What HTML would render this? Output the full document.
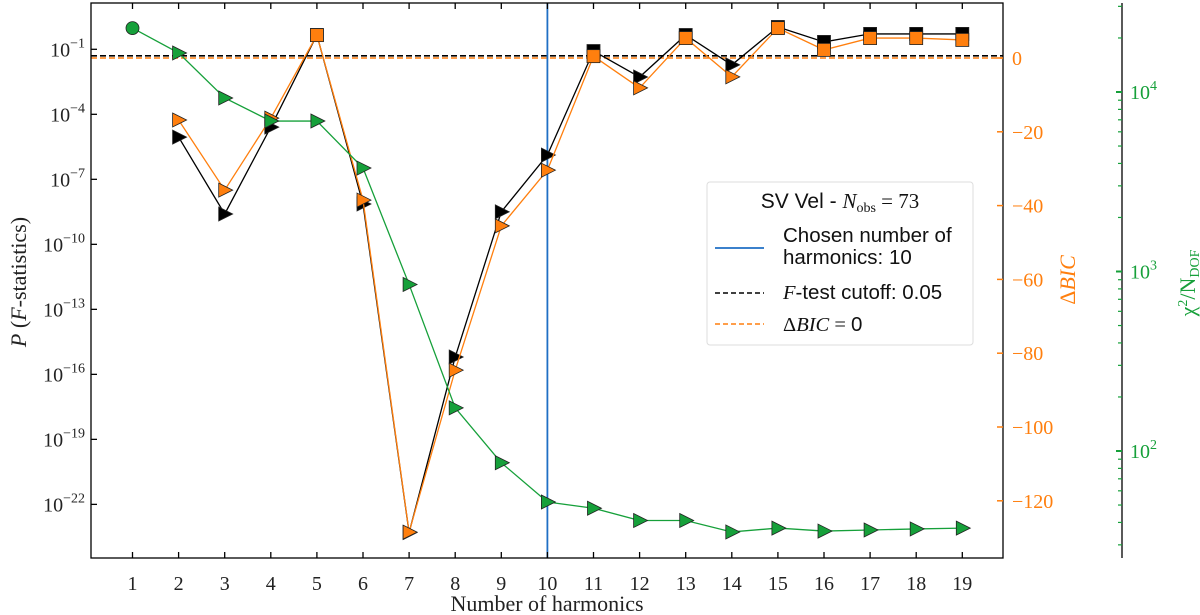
<!DOCTYPE html>
<html><head><meta charset="utf-8"><style>
html,body{margin:0;padding:0;background:#fff;width:1200px;height:615px;overflow:hidden}
svg{display:block}
.ser{font-family:"Liberation Serif","DejaVu Serif",serif}
.san{font-family:"Liberation Sans","DejaVu Sans",sans-serif}
</style></head><body>
<svg id="chart" width="1200" height="615" viewBox="0 0 1200 615"></svg>
<script>
const harmonics=[1,2,3,4,5,6,7,8,9,10,11,12,13,14,15,16,17,18,19];
const pLogHarm=[2,3,4,5,6,7,8,9,10,11,12,13,14,15,16,17,18,19];
const pLogValues=[-5.05,-8.6,-4.59,-0.34,-8.14,-23.3,-15.2,-8.5,-5.88,-1.08,-2.28,-0.34,-1.72,0.03,-0.66,-0.29,-0.29,-0.29];
const bicValues=[-16.8,-35.8,-16.3,6.2,-38.5,-128.5,-84.6,-45.5,-30.4,0.5,-8.1,5.4,-5.1,8.1,2.2,5.4,5.4,4.9];
const chiValues=[22700,16500,9260,6890,6890,3770,847,174,86,52,48,41,41,35.4,37.2,35.8,36.3,36.8,37.2];
const xTicks=[1,2,3,4,5,6,7,8,9,10,11,12,13,14,15,16,17,18,19];
const pTickExps=[-1,-4,-7,-10,-13,-16,-19,-22];
const bicTicks=[0,-20,-40,-60,-80,-100,-120];
const chiTickExps=[2,3,4];
const chosenHarm=10, fCut=0.05;

const L=91,R=1003,T=3,B=558;
const x=h=>132.5+(h-1)*46.1;
const yP=lp=>49.3+(-1-lp)*21.67;
const yB=v=>58-v*3.69;
const yC=c=>92-(Math.log10(c)-4)*179.5;
const NS="http://www.w3.org/2000/svg";
const svg=document.getElementById('chart');
function el(tag,attrs,parent){const e=document.createElementNS(NS,tag);for(const k in attrs)e.setAttribute(k,attrs[k]);(parent||svg).appendChild(e);return e;}

let g=el('line',{x1:L,x2:R,y1:yP(Math.log10(fCut)),y2:yP(Math.log10(fCut)),stroke:'#000','stroke-width':1.6,'stroke-dasharray':'6,3'});


g=el('line',{x1:L,x2:R,y1:yB(0),y2:yB(0),stroke:'#ff7f0e','stroke-width':1.6,'stroke-dasharray':'6,3'});


g=el('line',{x1:x(chosenHarm),x2:x(chosenHarm),y1:T,y2:B,stroke:'#1f6fc4','stroke-width':1.8});



function tri(cx,cy,fill){return el('polygon',{points:`${cx-6},${cy-7} ${cx+8},${cy} ${cx-6},${cy+7}`,fill:fill,stroke:'#222','stroke-width':0.8});}
function sq(cx,cy,fill){return el('rect',{x:cx-6.5,y:cy-6.5,width:13,height:13,fill:fill,stroke:'#222','stroke-width':0.8});}

let pts=pLogHarm.map((h,i)=>`${x(h)},${yP(pLogValues[i])}`).join(' ');
g=el('polyline',{points:pts,fill:'none',stroke:'#000','stroke-width':1.3});


pLogHarm.forEach((h,i)=>{const v=pLogValues[i];const m=v>Math.log10(fCut)?sq(x(h),yP(v),'#000'):tri(x(h),yP(v),'#000');

});

pts=pLogHarm.map((h,i)=>`${x(h)},${yB(bicValues[i])}`).join(' ');
g=el('polyline',{points:pts,fill:'none',stroke:'#ff7f0e','stroke-width':1.3});


pLogHarm.forEach((h,i)=>{const v=bicValues[i];const m=v>0?sq(x(h),yB(v),'#ff7f0e'):tri(x(h),yB(v),'#ff7f0e');

});

pts=harmonics.map((h,i)=>`${x(h)},${yC(chiValues[i])}`).join(' ');
g=el('polyline',{points:pts,fill:'none',stroke:'#16a03a','stroke-width':1.3});


harmonics.forEach((h,i)=>{let m;if(i===0){m=el('circle',{cx:x(h),cy:yC(chiValues[i]),r:6.5,fill:'#16a03a',stroke:'#222','stroke-width':0.8});}else m=tri(x(h),yC(chiValues[i]),'#16a03a');

});

g=el('rect',{x:L,y:T,width:R-L,height:B-T,fill:'none',stroke:'#000','stroke-width':1.3});



xTicks.forEach(t=>{el('line',{x1:x(t),x2:x(t),y1:B,y2:B-6,stroke:'#000','stroke-width':1.3});el('line',{x1:x(t),x2:x(t),y1:T,y2:T+6,stroke:'#000','stroke-width':1.3});
const tx=el('text',{x:x(t),y:590,'text-anchor':'middle','font-size':20,class:'ser',fill:'#222'});tx.textContent=t;

});
pTickExps.forEach(e=>{const yy=yP(e);el('line',{x1:L,x2:L+6,y1:yy,y2:yy,stroke:'#000','stroke-width':1.3});
const tx=el('text',{x:L-6,y:yy+7,'text-anchor':'end','font-size':20,class:'ser',fill:'#222'});tx.innerHTML=`10<tspan dy="-9" font-size="14">${e<0?'−':''}${Math.abs(e)}</tspan>`;

});
bicTicks.forEach(v=>{const yy=yB(v);el('line',{x1:R-6,x2:R,y1:yy,y2:yy,stroke:'#ff7f0e','stroke-width':1.5});
const tx=el('text',{x:R+9,y:yy+7,'font-size':20,class:'ser',fill:'#ff7f0e'});tx.textContent=(v<0?'−':'')+Math.abs(v);

});
el('line',{x1:1122,x2:1122,y1:T,y2:B,stroke:'#000','stroke-width':1.3});
for(let e=1;e<=4;e++)for(let k=1;k<10;k++){const yy=yC(k*Math.pow(10,e));if(yy<T||yy>B)continue;
el('line',{x1:k===1?1116:1118,x2:1122,y1:yy,y2:yy,stroke:'#16a03a','stroke-width':k===1?2:1.2});}
chiTickExps.forEach(e=>{const yy=yC(Math.pow(10,e));const tx=el('text',{x:1130,y:yy+7,'font-size':20,class:'ser',fill:'#16a03a'});tx.innerHTML=`10<tspan dy="-9" font-size="14">${e}</tspan>`;

});

let t=el('text',{x:547,y:611,'text-anchor':'middle','font-size':22,class:'ser',fill:'#222'});t.textContent='Number of harmonics';


t=el('text',{transform:'translate(26,282) rotate(-90)','text-anchor':'middle','font-size':22,class:'ser',fill:'#222'});t.innerHTML='<tspan font-style="italic">P</tspan> (<tspan font-style="italic">F</tspan>-statistics)';


t=el('text',{transform:'translate(1075,280) rotate(-90)','text-anchor':'middle','font-size':22,class:'ser',fill:'#ff7f0e'});t.innerHTML='Δ<tspan font-style="italic">BIC</tspan>';


t=el('text',{transform:'translate(1195,283) rotate(-90)','text-anchor':'middle','font-size':22,class:'ser',fill:'#16a03a'});t.innerHTML='χ<tspan dy="-8" font-size="14">2</tspan><tspan dy="8">/N</tspan><tspan dy="4" font-size="14">DOF</tspan>';



const lg=el('g',{});


el('rect',{x:707,y:182,width:266,height:163,rx:3,fill:'#fff',stroke:'#ddd','stroke-width':1},lg);
t=el('text',{x:840,y:208,'text-anchor':'middle','font-size':21,class:'san',fill:'#111'},lg);t.innerHTML='SV Vel - <tspan class="ser" font-style="italic">N</tspan><tspan class="ser" font-size="14" dy="4">obs</tspan><tspan class="ser" dy="-4"> = 73</tspan>';


el('line',{x1:715,x2:764,y1:248,y2:248,stroke:'#1f6fc4','stroke-width':1.8},lg);
t=el('text',{x:783,y:242,'font-size':20.5,class:'san',fill:'#111'},lg);t.textContent='Chosen number of';


t=el('text',{x:783,y:264,'font-size':20.5,class:'san',fill:'#111'},lg);t.textContent='harmonics: 10';
el('line',{x1:715,x2:764,y1:293,y2:293,stroke:'#000','stroke-width':1.6,'stroke-dasharray':'5,3'},lg);
t=el('text',{x:783,y:299,'font-size':20.5,class:'san',fill:'#111'},lg);t.innerHTML='<tspan class="ser" font-style="italic">F</tspan>-test cutoff: 0.05';


el('line',{x1:715,x2:764,y1:324,y2:324,stroke:'#ff7f0e','stroke-width':1.6,'stroke-dasharray':'5,3'},lg);
t=el('text',{x:783,y:331,'font-size':20.5,class:'san',fill:'#111'},lg);t.innerHTML='<tspan class="ser">Δ<tspan font-style="italic">BIC</tspan> = </tspan>0';


</script>
</body></html>
